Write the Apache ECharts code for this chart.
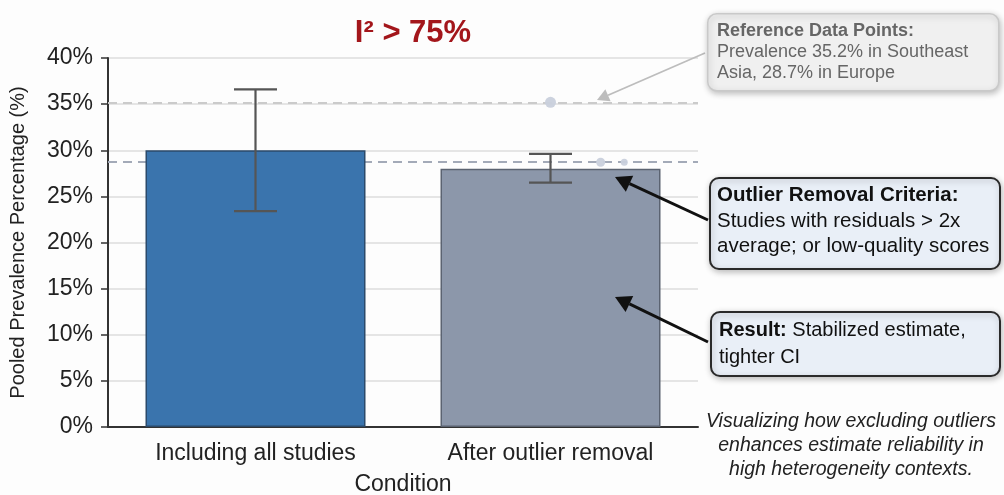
<!DOCTYPE html>
<html>
<head>
<meta charset="utf-8">
<script src="https://cdn.jsdelivr.net/npm/echarts@6/dist/echarts.min.js"></script>
<style>
html,body{margin:0;padding:0;background:#fdfdfd;}
#chart{width:1004px;height:495px;}
</style>
</head>
<body>
<div id="chart"></div>
<script>
// ---- data ----
const categories = ['Including all studies', 'After outlier removal'];
const pooledValues = [30.0, 28.0];
const ciLower = [23.4, 26.5];
const ciUpper = [36.6, 29.6];
const referenceLines = [35.2, 28.7];
const refPoints = [[1.0, 35.2], [1.17, 28.7], [1.25, 28.7]];
const refPointSizes = [11, 9, 7];
const yTicks = [0, 5, 10, 15, 20, 25, 30, 35, 40];

const FONT = '"Liberation Sans", Arial, sans-serif';
const chart = echarts.init(document.getElementById('chart'));

const barColors = [
  {fill: '#3a74ad', border: '#2b4a6b'},
  {fill: '#8c97aa', border: '#5b6371'}
];

function boxGraphic(x, y, w, h, fill, stroke, lw, shadow) {
  return {
    type: 'rect', left: x, top: y, z: 10,
    shape: {width: w, height: h, r: 9},
    style: {fill: fill, stroke: stroke, lineWidth: lw,
      shadowBlur: shadow ? 6 : 0, shadowColor: 'rgba(0,0,0,0.25)', shadowOffsetX: 1, shadowOffsetY: 2}
  };
}
function arrow(x1, y1, x2, y2, color, width, head) {
  const ang = Math.atan2(y2 - y1, x2 - x1);
  const hl = head, hw = head * 0.55;
  const bx = x2 - hl * Math.cos(ang), by = y2 - hl * Math.sin(ang);
  const px = -Math.sin(ang) * hw, py = Math.cos(ang) * hw;
  return [
    {type: 'line', z: 9, shape: {x1: x1, y1: y1, x2: bx, y2: by}, style: {stroke: color, lineWidth: width}},
    {type: 'polygon', z: 9, shape: {points: [[x2, y2], [bx + px, by + py], [bx - px, by - py]]}, style: {fill: color}}
  ];
}

const option = {
  backgroundColor: '#fdfdfd',
  animation: false,
  title: {
    text: 'I² > 75%', left: 408, top: 13, textAlign: 'center',
    textStyle: {fontFamily: FONT, fontSize: 31, fontWeight: 'bold', color: '#a3161b'}
  },
  grid: {left: 108, right: 306, top: 58, bottom: 68, containLabel: false, outerBoundsMode: 'none'},
  xAxis: [{
    type: 'category', data: categories,
    name: 'Condition', nameLocation: 'middle', nameGap: 46,
    nameTextStyle: {fontFamily: FONT, fontSize: 23, color: '#222'},
    axisLine: {lineStyle: {color: '#333', width: 2}},
    axisTick: {alignWithLabel: true, length: 6, lineStyle: {color: '#333', width: 2}},
    axisLabel: {fontFamily: FONT, fontSize: 23, color: '#222', margin: 15}
  }, {
    type: 'value', min: -0.5, max: 1.5, show: false
  }],
  yAxis: {
    type: 'value', min: 0, max: 40, interval: 5,
    name: 'Pooled Prevalence Percentage (%)', nameLocation: 'middle', nameGap: 80,
    nameTextStyle: {fontFamily: FONT, fontSize: 20, color: '#222'},
    axisLine: {show: true, onZero: false, lineStyle: {color: '#333', width: 2}},
    axisTick: {show: true, length: 7, lineStyle: {color: '#333', width: 1.5}},
    axisLabel: {fontFamily: FONT, fontSize: 23, color: '#222', margin: 15,
      formatter: v => yTicks.includes(v) ? v + '%' : ''},
    splitLine: {lineStyle: {color: '#dcdcdc', width: 1.5}}
  },
  series: [{
    type: 'bar', barWidth: 220, z: 3,
    data: pooledValues.map((v, i) => ({value: v, itemStyle: {color: barColors[i].fill, borderColor: barColors[i].border, borderWidth: 1.5}})),
    markLine: {
      silent: true, symbol: 'none', z: 2,
      label: {show: false},
      data: referenceLines.map((v, i) => ({
        yAxis: v,
        lineStyle: {type: [9, 6], width: 2, color: i === 0 ? '#cbcbcb' : '#a3aab8'}
      }))
    }
  }, {
    type: 'custom', z: 5,
    data: categories.map((c, i) => [i, ciLower[i], ciUpper[i]]),
    renderItem: function (params, api) {
      const lo = api.coord([api.value(0), api.value(1)]);
      const hi = api.coord([api.value(0), api.value(2)]);
      const hw = 21.5;
      const st = {stroke: '#555', lineWidth: 2.2};
      return {type: 'group', children: [
        {type: 'line', shape: {x1: hi[0], y1: hi[1], x2: lo[0], y2: lo[1]}, style: st},
        {type: 'line', shape: {x1: hi[0] - hw, y1: hi[1], x2: hi[0] + hw, y2: hi[1]}, style: st},
        {type: 'line', shape: {x1: lo[0] - hw, y1: lo[1], x2: lo[0] + hw, y2: lo[1]}, style: st}
      ]};
    }
  }, {
    type: 'scatter', xAxisIndex: 1, z: 4,
    data: refPoints.map((p, i) => ({value: p, symbolSize: refPointSizes[i]})),
    itemStyle: {color: '#c9d0dc', opacity: 0.95}
  }],
  graphic: [
    boxGraphic(707, 13, 291, 77, '#f0f0f0', '#c9c9c9', 1.5, true),
    {type: 'text', left: 717, top: 21, z: 11, style: {
      text: '{b|Reference Data Points:}\nPrevalence 35.2% in Southeast\nAsia, 28.7% in Europe',
      font: '18px ' + FONT, fill: '#666', lineHeight: 21,
      rich: {b: {fontWeight: 'bold', fontSize: 18, fontFamily: FONT, fill: '#666', lineHeight: 21}}
    }},
    ...arrow(705, 53, 597, 100, '#bdbdbd', 1.8, 12),

    boxGraphic(709, 177, 290, 91, '#e9eff7', '#2a2a2a', 2, true),
    {type: 'text', left: 717, top: 183, z: 11, style: {
      text: '{b|Outlier Removal Criteria:}\nStudies with residuals > 2x\naverage; or low-quality scores',
      font: '20.5px ' + FONT, fill: '#111', lineHeight: 25.5,
      rich: {b: {fontWeight: 'bold', fontSize: 20.5, fontFamily: FONT, fill: '#111', lineHeight: 25.5}}
    }},
    ...arrow(708, 220, 615, 177, '#111', 3, 16),

    boxGraphic(710, 311, 289, 64, '#e9eff7', '#2a2a2a', 2, true),
    {type: 'text', left: 719, top: 317, z: 11, style: {
      text: '{b|Result:} Stabilized estimate,\ntighter CI',
      font: '20px ' + FONT, fill: '#111', lineHeight: 27,
      rich: {b: {fontWeight: 'bold', fontSize: 20, fontFamily: FONT, fill: '#111', lineHeight: 27}}
    }},
    ...arrow(708, 342, 615, 297, '#111', 3, 16),

    {type: 'text', x: 851, y: 410, z: 11, style: {
      text: 'Visualizing how excluding outliers\nenhances estimate reliability in\nhigh heterogeneity contexts.',
      font: 'italic 19.5px ' + FONT, fill: '#222', lineHeight: 24, align: 'center'
    }}
  ]
};
chart.setOption(option);
</script>
</body>
</html>
